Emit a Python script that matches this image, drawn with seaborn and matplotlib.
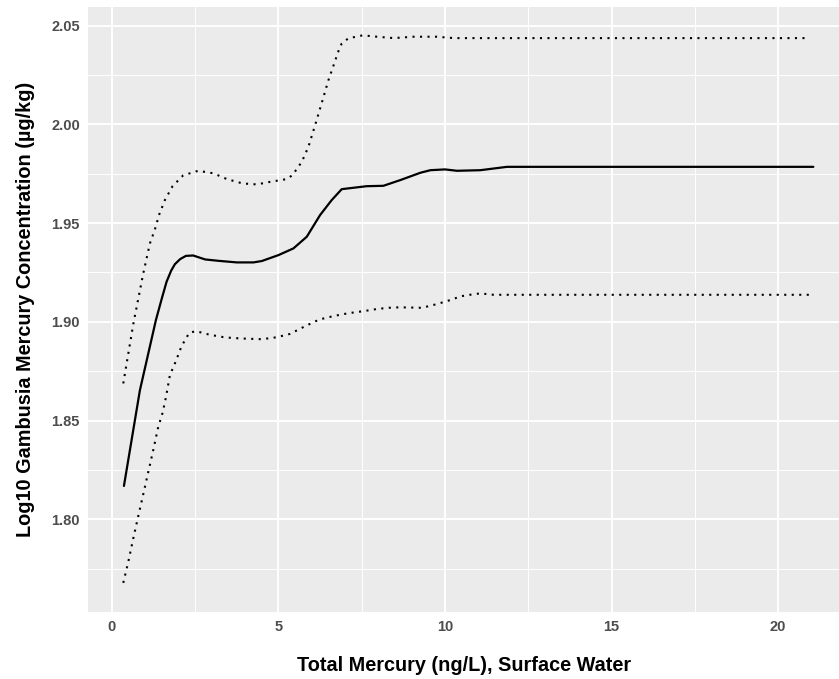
import numpy as np
import pandas as pd
import matplotlib
matplotlib.use("Agg")
import matplotlib.pyplot as plt
import seaborn as sns
from matplotlib.ticker import MultipleLocator

# Fitted response of Gambusia mercury to surface-water total mercury
fit_x = [0.36, 0.84, 1.32, 1.50, 1.64, 1.78, 1.89, 2.05, 2.22, 2.44, 2.60, 2.80,
         3.20, 3.75, 4.25, 4.50, 5.00, 5.45, 5.85, 6.25, 6.60, 6.90, 7.65, 8.15,
         8.66, 9.26, 9.56, 10.00, 10.36, 11.06, 11.86, 15.00, 21.06]
fit_y = [1.8169, 1.8654, 1.9009, 1.9120, 1.9203, 1.9260, 1.9292, 1.9318, 1.9334,
         1.9336, 1.9327, 1.9316, 1.9309, 1.9301, 1.9301, 1.9308, 1.9338, 1.9372,
         1.9431, 1.9541, 1.9617, 1.9672, 1.9687, 1.9689, 1.9718, 1.9755, 1.9768,
         1.9772, 1.9765, 1.9768, 1.9785, 1.9785, 1.9785]

# Upper confidence bound
upper_x = [0.34, 0.64, 0.94, 1.14, 1.29, 1.42, 1.59, 1.82, 2.14, 2.59, 3.05, 3.45,
           3.92, 4.35, 4.75, 5.25, 5.42, 5.70, 5.90, 6.10, 6.30, 6.50, 6.65, 6.80,
           6.90, 7.10, 7.53, 7.96, 8.46, 9.06, 9.76, 10.26, 15.00, 20.93]
upper_y = [1.8688, 1.8988, 1.9245, 1.9397, 1.9468, 1.9544, 1.9617, 1.9687, 1.9742,
           1.9765, 1.9752, 1.9723, 1.9701, 1.9696, 1.9709, 1.9723, 1.9743, 1.9810,
           1.9887, 1.9996, 2.0109, 2.0224, 2.0297, 2.0371, 2.0410, 2.0436, 2.0451,
           2.0444, 2.0437, 2.0444, 2.0444, 2.0437, 2.0437, 2.0437]

# Lower confidence bound
lower_x = [0.34, 0.49, 0.64, 0.79, 0.94, 1.09, 1.24, 1.39, 1.52, 1.62, 1.74, 1.92,
           2.09, 2.32, 2.52, 2.95, 3.40, 3.85, 4.50, 4.95, 5.35, 5.80, 6.23, 6.67,
           7.11, 7.55, 7.99, 8.44, 8.88, 9.31, 9.76, 10.21, 10.46, 10.86, 11.06,
           11.46, 15.00, 20.93]
lower_y = [1.7678, 1.7784, 1.7903, 1.8016, 1.8127, 1.8239, 1.8350, 1.8468, 1.8539,
           1.8617, 1.8730, 1.8801, 1.8877, 1.8944, 1.8953, 1.8934, 1.8921, 1.8916,
           1.8912, 1.8922, 1.8939, 1.8978, 1.9012, 1.9030, 1.9044, 1.9054, 1.9066,
           1.9073, 1.9073, 1.9071, 1.9090, 1.9113, 1.9129, 1.9140, 1.9144, 1.9137,
           1.9137, 1.9137]

x_ticks = [0, 5, 10, 15, 20]
y_ticks = [1.80, 1.85, 1.90, 1.95, 2.00, 2.05]

fit_df = pd.DataFrame({"x": fit_x, "y": fit_y})
upper_df = pd.DataFrame({"x": upper_x, "y": upper_y})
lower_df = pd.DataFrame({"x": lower_x, "y": lower_y})

sns.set_theme(style="darkgrid", rc={
    "axes.facecolor": "#EBEBEB",
    "grid.color": "white",
    "axes.edgecolor": "#EBEBEB",
})
plt.rcParams["font.family"] = ["Liberation Sans", "DejaVu Sans"]

fig = plt.figure(figsize=(8.39, 6.79), dpi=100)
ax = fig.add_axes([88.3 / 839, 1 - 611.7 / 679, 1 - 88.3 / 839, (611.7 - 7.3) / 679])

dotted = (0, (1, 2.6))
sns.lineplot(data=upper_df, x="x", y="y", ax=ax, color="black", lw=1.5,
             linestyle=dotted, sort=False)
sns.lineplot(data=lower_df, x="x", y="y", ax=ax, color="black", lw=1.5,
             linestyle=dotted, sort=False)
sns.lineplot(data=fit_df, x="x", y="y", ax=ax, color="black", lw=1.6, sort=False)

ax.set_xlim(-0.71, 21.83)
ax.set_ylim(1.7532, 2.0593)
ax.set_xticks(x_ticks)
ax.set_yticks(y_ticks)
ax.set_xticklabels([str(v) for v in x_ticks])
ax.set_yticklabels([f"{v:.2f}" for v in y_ticks])
ax.xaxis.set_minor_locator(MultipleLocator(2.5))
ax.yaxis.set_minor_locator(MultipleLocator(0.025))
ax.grid(which="major", color="white", lw=1.4)
ax.grid(which="minor", color="white", lw=0.7)
ax.set_axisbelow(True)
for s in ax.spines.values():
    s.set_visible(False)

ax.tick_params(axis="both", which="major", length=3, width=0.8, color="#333333",
               labelsize=10.5, labelcolor="#4D4D4D", pad=3)
ax.tick_params(axis="both", which="minor", length=0)
for lab in ax.get_xticklabels() + ax.get_yticklabels():
    lab.set_fontweight("bold")

ax.set_xlabel("Total Mercury (ng/L), Surface Water", fontsize=14.3, fontweight="bold",
              color="black", labelpad=16)
ax.set_ylabel("Log10 Gambusia Mercury Concentration (\u00b5g/kg)", fontsize=14.3,
              fontweight="bold", color="black", labelpad=12)

fig.savefig("out.png", dpi=100)
